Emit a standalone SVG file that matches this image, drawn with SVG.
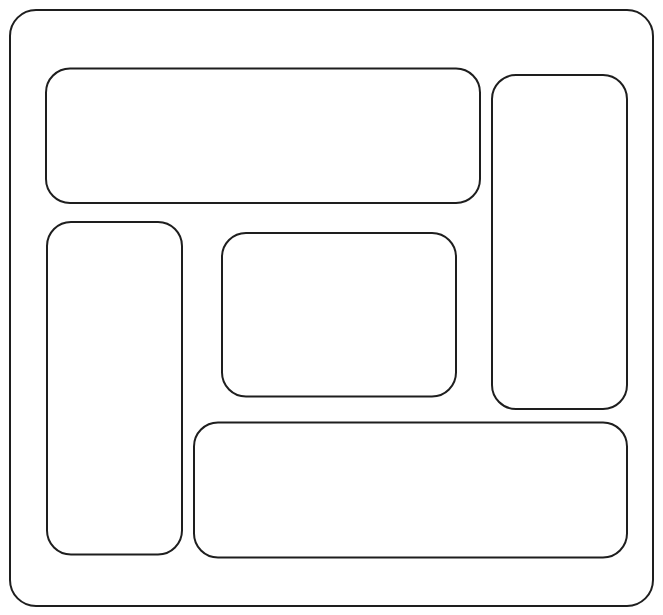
<svg xmlns="http://www.w3.org/2000/svg" width="663" height="615" viewBox="0 0 663 615">
<style>
.b{fill:none;stroke:#1e1e1e;stroke-width:2;stroke-linejoin:round}
</style>
<rect width="663" height="615" fill="#ffffff"/>
<g id="frame"><rect class="b" x="10" y="10" width="643" height="596" rx="26" ry="26"/></g>
<g id="top-panel"><rect class="b" x="46" y="68.5" width="434" height="134.5" rx="24" ry="24"/></g>
<g id="right-panel"><rect class="b" x="492" y="75" width="135" height="334" rx="24" ry="24"/></g>
<g id="left-panel"><rect class="b" x="47" y="222" width="135" height="332.5" rx="24" ry="24"/></g>
<g id="center-panel"><rect class="b" x="222" y="233" width="234" height="163.5" rx="24" ry="24"/></g>
<g id="bottom-panel"><rect class="b" x="194" y="422.5" width="433" height="135" rx="24" ry="24"/></g>
<g id="connectors"></g>
</svg>
